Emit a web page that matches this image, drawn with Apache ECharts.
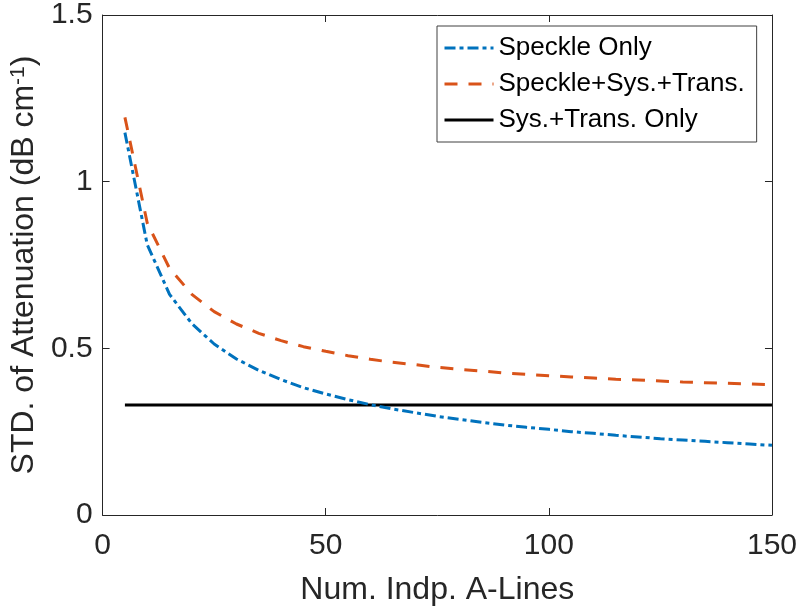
<!DOCTYPE html>
<html>
<head>
<meta charset="utf-8">
<script src="https://cdn.jsdelivr.net/npm/echarts@6/dist/echarts.min.js"></script>
<style>html,body{margin:0;padding:0;background:#fff;}#c{width:800px;height:611px;}</style>
</head>
<body>
<div id="c"></div>
<script>
const xValues = [5,10,15,20,25,30,35,40,45,50,55,60,65,70,75,80,85,90,95,100,105,110,115,120,125,130,135,140,145,150];
const speckleOnly = [1.147,0.811,0.662,0.574,0.513,0.468,0.434,0.406,0.382,0.363,0.346,0.331,0.318,0.307,0.296,0.287,0.278,0.270,0.263,0.257,0.250,0.245,0.239,0.234,0.229,0.225,0.221,0.217,0.213,0.209];
const speckleSysTrans = [1.193,0.876,0.740,0.662,0.610,0.573,0.545,0.523,0.505,0.491,0.478,0.467,0.458,0.451,0.443,0.437,0.432,0.426,0.422,0.418,0.414,0.411,0.407,0.405,0.402,0.399,0.397,0.395,0.393,0.391];
const sysTransX = [5,150];
const sysTransOnly = [0.33,0.33];
const seriesNames = ['Speckle Only','Speckle+Sys.+Trans.','Sys.+Trans. Only'];
const xTicks = [0,50,100,150];
const yTicks = [0,0.5,1,1.5];

const pairs = (xs, ys) => xs.map((x,i)=>[x, ys[i]]);
const FONT = 'Liberation Sans';
const TXT = '#262626';
const AX = '#262626';

const chart = echarts.init(document.getElementById('c'), null, {renderer:'canvas'});
const baseX = {
  type:'value', min:xTicks[0], max:xTicks[xTicks.length-1], interval:50,
  axisLine:{show:true,onZero:false,lineStyle:{color:AX,width:1}},
  axisTick:{show:true,inside:true,length:7,lineStyle:{color:AX}},
  splitLine:{show:false}
};
const baseY = {
  type:'value', min:yTicks[0], max:yTicks[yTicks.length-1], interval:0.5,
  axisLine:{show:true,onZero:false,lineStyle:{color:AX,width:1}},
  axisTick:{show:true,inside:true,length:7,lineStyle:{color:AX}},
  splitLine:{show:false}
};
chart.setOption({
  animation:false,
  backgroundColor:'#fff',
  grid:{left:102,right:26,top:11,bottom:94,containLabel:false},
  legend:{
    orient:'vertical', left:437, top:26,
    data:seriesNames,
    itemWidth:49, itemHeight:20, itemGap:10,
    padding:[9,12,9,6],
    borderColor:'#404040', borderWidth:1, backgroundColor:'#fff',
    itemStyle:{opacity:0, borderWidth:0},
    lineStyle:{width:3},
    textStyle:{fontFamily:FONT,fontSize:26,color:'#000',lineHeight:25}
  },
  xAxis:[
    Object.assign({}, baseX, {
      position:'bottom',
      axisLabel:{show:true,margin:16,fontFamily:FONT,fontSize:30,color:TXT,formatter:v=>String(v)},
      name:'Num. Indp. A-Lines', nameLocation:'middle', nameGap:59,
      nameTextStyle:{fontFamily:FONT,fontSize:32,color:TXT}
    }),
    Object.assign({}, baseX, {position:'top', axisLabel:{show:false}})
  ],
  yAxis:[
    Object.assign({}, baseY, {
      position:'left',
      axisLabel:{show:true,margin:10,fontFamily:FONT,fontSize:30,color:TXT,formatter:v=>String(v)},
      name:'STD. of Attenuation (dB cm{sup|-1})', nameLocation:'middle', nameGap:56,
      nameTextStyle:{fontFamily:FONT,fontSize:32,color:TXT,
        rich:{sup:{fontFamily:FONT,fontSize:21,color:TXT,verticalAlign:'top',lineHeight:21}}}
    }),
    Object.assign({}, baseY, {position:'right', axisLabel:{show:false}})
  ],
  series:[
    {name:seriesNames[0], type:'line', data:pairs(xValues,speckleOnly), symbol:'none', showSymbol:false, z:4,
     lineStyle:{color:'#0072BD',width:3,type:[11,4,4,4],cap:'butt'}, itemStyle:{color:'#0072BD'}},
    {name:seriesNames[1], type:'line', data:pairs(xValues,speckleSysTrans), symbol:'none', showSymbol:false, z:3,
     lineStyle:{color:'#D95319',width:3,type:[13,11],cap:'butt'}, itemStyle:{color:'#D95319'}},
    {name:seriesNames[2], type:'line', data:pairs(sysTransX,sysTransOnly), symbol:'none', showSymbol:false, z:2,
     lineStyle:{color:'#000000',width:3,type:'solid'}, itemStyle:{color:'#000000'}}
  ]
});
</script>
</body>
</html>
